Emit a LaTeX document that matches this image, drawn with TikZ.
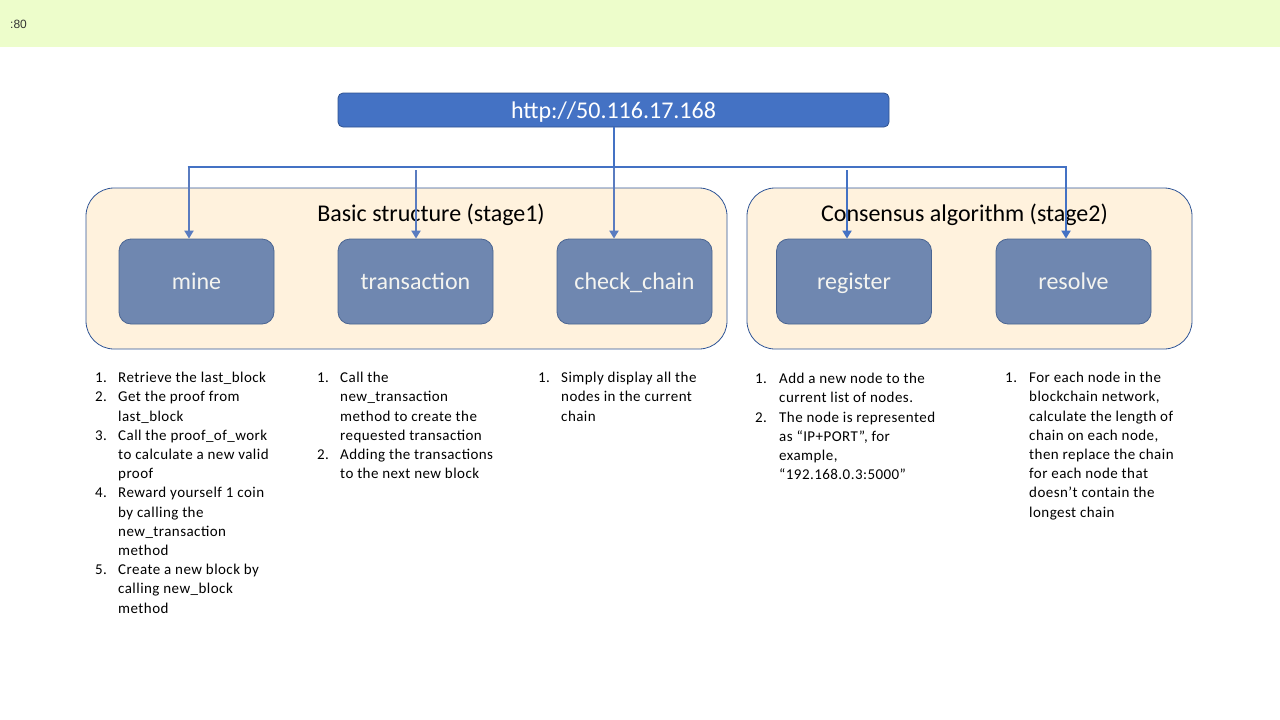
\documentclass[tikz,border=0pt]{standalone}
\usepackage{fontspec}
\setmainfont{Carlito}
\newfontfamily\arialf{Liberation Sans}
\newfontfamily\listfont{Carlito}[LetterSpace=3]
\usetikzlibrary{arrows.meta}
\definecolor{band}{HTML}{EDFDCB}
\definecolor{grpfill}{HTML}{FFF2DD}
\definecolor{grpline}{HTML}{2F5597}
\definecolor{httpfill}{HTML}{4472C4}
\definecolor{httpline}{HTML}{2F528F}
\definecolor{boxfill}{HTML}{6F87B0}
\definecolor{boxline}{HTML}{4A6592}
\definecolor{boxtext}{HTML}{F4F4F0}
\definecolor{conn}{HTML}{4472C4}
\definecolor{conn2}{HTML}{5A7CC0}
\tikzset{
  grp/.style={draw=grpline, line width=0.8pt, fill=grpfill, rounded corners=28pt},
  apibox/.style={draw=boxline, line width=0.8pt, fill=boxfill, rounded corners=12pt,
    minimum width=155pt, minimum height=85pt, inner sep=0pt, text=boxtext,
    text height=16pt, text depth=0pt,
    font=\fontsize{24}{29}\selectfont},
  grptitle/.style={font=\fontsize{24}{29}\selectfont, text=black, inner sep=0pt,
    text height=16pt, text depth=0pt},
  wire/.style={draw=conn, line width=2.6pt},
  arr/.style={draw=conn, line width=2.6pt, -{Triangle[length=8pt,width=9pt]}},
  arrb/.style={draw=conn2, line width=2.6pt, -{Triangle[length=8pt,width=9pt]}},
  lst/.style={anchor=north west, inner sep=0pt, font=\listfont\fontsize{15}{19.2}\selectfont, text=black}
}
\begin{document}
\begin{tikzpicture}[x=1pt,y=-1pt]
\useasboundingbox (0,0) rectangle (1280,720);
\fill[band] (0,0) rectangle (1280,47);
\node[anchor=west, inner sep=0pt, font=\arialf\fontsize{12}{14}\selectfont, text=black!80] (port) at (10,24) {:80};

% groups
\draw[grp] (86,188) rectangle (727,349);
\draw[grp] (747,188) rectangle (1192,349);
\node[grptitle] (t1) at (431,213) {Basic structure (stage1)};
\node[grptitle] (t2) at (964.5,213) {Consensus algorithm (stage2)};

% http box
\node[draw=httpline, line width=0.8pt, fill=httpfill, rounded corners=5pt, minimum width=551pt, minimum height=34pt, inner sep=0pt, text=white, text height=16pt, text depth=0pt, font=\fontsize{24}{29}\selectfont] (http) at (613.5,110) {http://50.116.17.168};

% api boxes
\node[apibox] (mine) at (196.5,281.5) {mine};
\node[apibox] (trans) at (415.5,281.5) {transaction};
\node[apibox] (check) at (634.5,281.5) {check\_chain};
\node[apibox] (reg) at (854,281.5) {register};
\node[apibox] (res) at (1073.5,281.5) {resolve};

% connectors
\coordinate (hub) at (614,167);
\coordinate (hl) at (189,167);
\coordinate (hr) at (1066,167);
\coordinate (tt) at (416,170);
\coordinate (rt) at (847,170);
\coordinate (ct) at (614,170);
\draw[wire] (http.south -| hub) -- (hub);
\draw[wire] ([xshift=-1.3pt]hl) -- ([xshift=1.3pt]hr);
\draw[arrb] ([yshift=-1.3pt]hl) -- (hl |- mine.north);
\draw[arrb] (tt) -- (tt |- trans.north);
\draw[arrb] ([yshift=-1.3pt]hub) -- (ct |- check.north);
\draw[arr] (rt) -- (rt |- reg.north);
\draw[arr] ([yshift=-1.3pt]hr) -- (hr |- res.north);

% lists
\node[lst] (l1) at (95,369) {\begin{tabular}{@{}p{23pt}@{}l@{}}
1. & Retrieve the last\_block\\
2. & Get the proof from\\
   & last\_block\\
3. & Call the proof\_of\_work\\
   & to calculate a new valid\\
   & proof\\
4. & Reward yourself 1 coin\\
   & by calling the\\
   & new\_transaction\\
   & method\\
5. & Create a new block by\\
   & calling new\_block\\
   & method
\end{tabular}};
\node[lst] (l2) at (317,369) {\begin{tabular}{@{}p{23pt}@{}l@{}}
1. & Call the\\
   & new\_transaction\\
   & method to create the\\
   & requested transaction\\
2. & Adding the transactions\\
   & to the next new block
\end{tabular}};
\node[lst] (l3) at (538,369) {\begin{tabular}{@{}p{23pt}@{}l@{}}
1. & Simply display all the\\
   & nodes in the current\\
   & chain
\end{tabular}};
\node[lst] (l4) at (755,370) {\begin{tabular}{@{}p{24pt}@{}l@{}}
1. & Add a new node to the\\
   & current list of nodes.\\
2. & The node is represented\\
   & as “IP+PORT”, for\\
   & example,\\
   & “192.168.0.3:5000”
\end{tabular}};
\node[lst] (l5) at (1005,369) {\begin{tabular}{@{}p{24pt}@{}l@{}}
1. & For each node in the\\
   & blockchain network,\\
   & calculate the length of\\
   & chain on each node,\\
   & then replace the chain\\
   & for each node that\\
   & doesn’t contain the\\
   & longest chain
\end{tabular}};
\end{tikzpicture}
\end{document}
